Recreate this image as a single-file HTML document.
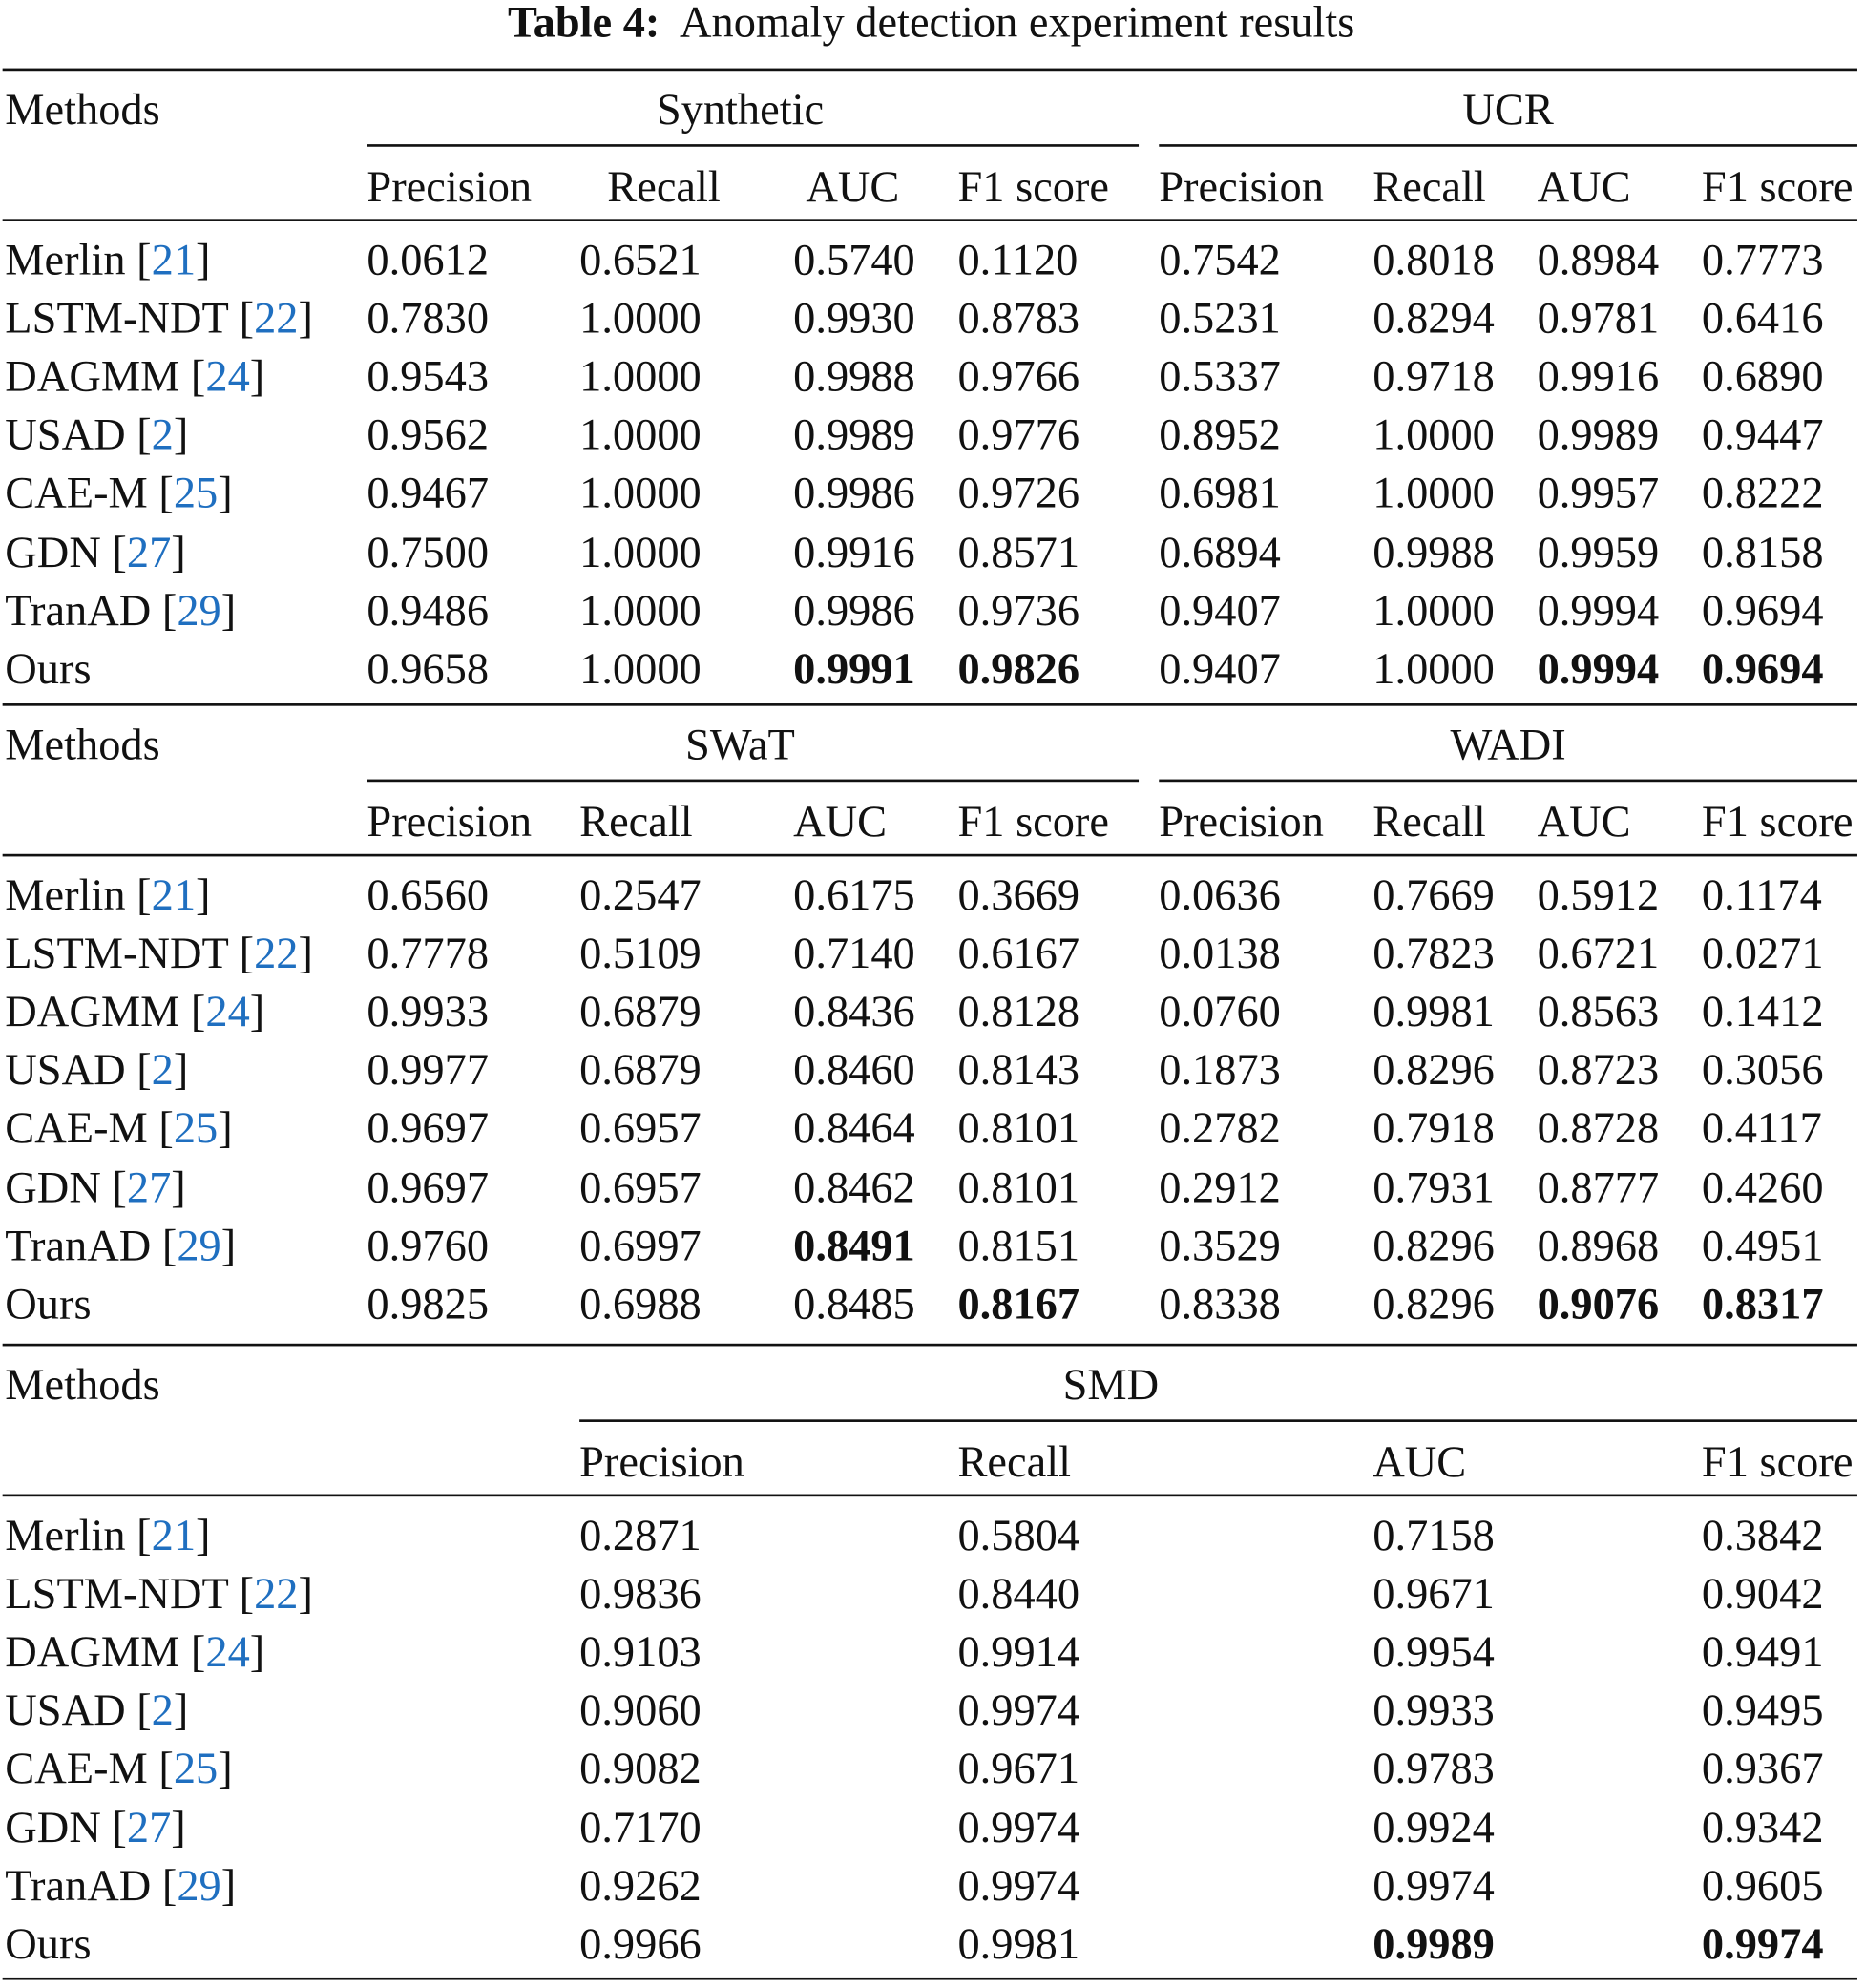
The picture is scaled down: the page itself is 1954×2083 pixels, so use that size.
<!DOCTYPE html>
<html><head><meta charset="utf-8">
<style>
html,body{margin:0;padding:0;background:#fff;}
body{width:1954px;height:2083px;overflow:hidden;position:relative;}
#wrap{position:absolute;left:0;top:0;width:1474px;height:1571px;transform:scale(1.3256);transform-origin:0 0;font-family:"Liberation Serif",serif;color:#111;}
.t{position:absolute;font-size:35px;line-height:34px;white-space:nowrap;}
.c{transform:translateX(-50%);}
.b{font-weight:bold;}
.ref{color:#1f6fc0;}
.rule{position:absolute;height:2px;background:#111;}
</style></head>
<body>
<div id="wrap">
<div class="t c" style="left:736px;top:1px;font-size:35px;"><b>Table 4:</b>&nbsp; Anomaly detection experiment results</div>
</div>
<script>
const methods=["Merlin","LSTM-NDT","DAGMM","USAD","CAE-M","GDN","TranAD","Ours"];
const refs=["21","22","24","2","25","27","29",""];
const syn=[["0.0612","0.6521","0.5740","0.1120"],["0.7830","1.0000","0.9930","0.8783"],["0.9543","1.0000","0.9988","0.9766"],["0.9562","1.0000","0.9989","0.9776"],["0.9467","1.0000","0.9986","0.9726"],["0.7500","1.0000","0.9916","0.8571"],["0.9486","1.0000","0.9986","0.9736"],["0.9658","1.0000","*0.9991","*0.9826"]];
const ucr=[["0.7542","0.8018","0.8984","0.7773"],["0.5231","0.8294","0.9781","0.6416"],["0.5337","0.9718","0.9916","0.6890"],["0.8952","1.0000","0.9989","0.9447"],["0.6981","1.0000","0.9957","0.8222"],["0.6894","0.9988","0.9959","0.8158"],["0.9407","1.0000","0.9994","0.9694"],["0.9407","1.0000","*0.9994","*0.9694"]];
const swat=[["0.6560","0.2547","0.6175","0.3669"],["0.7778","0.5109","0.7140","0.6167"],["0.9933","0.6879","0.8436","0.8128"],["0.9977","0.6879","0.8460","0.8143"],["0.9697","0.6957","0.8464","0.8101"],["0.9697","0.6957","0.8462","0.8101"],["0.9760","0.6997","*0.8491","0.8151"],["0.9825","0.6988","0.8485","*0.8167"]];
const wadi=[["0.0636","0.7669","0.5912","0.1174"],["0.0138","0.7823","0.6721","0.0271"],["0.0760","0.9981","0.8563","0.1412"],["0.1873","0.8296","0.8723","0.3056"],["0.2782","0.7918","0.8728","0.4117"],["0.2912","0.7931","0.8777","0.4260"],["0.3529","0.8296","0.8968","0.4951"],["0.8338","0.8296","*0.9076","*0.8317"]];
const smd=[["0.2871","0.5804","0.7158","0.3842"],["0.9836","0.8440","0.9671","0.9042"],["0.9103","0.9914","0.9954","0.9491"],["0.9060","0.9974","0.9933","0.9495"],["0.9082","0.9671","0.9783","0.9367"],["0.7170","0.9974","0.9924","0.9342"],["0.9262","0.9974","0.9974","0.9605"],["0.9966","0.9981","*0.9989","*0.9974"]];
const W=document.getElementById('wrap');
function txt(x,y,html,name,cls){const d=document.createElement('div');d.className='t'+(cls?' '+cls:'');d.style.left=x+'px';d.style.top=(y-15)+'px';d.innerHTML=html;


W.appendChild(d);return d;}
function rule(x1,x2,y,th,name){const d=document.createElement('div');d.className='rule';d.style.left=x1+'px';d.style.width=(x2-x1)+'px';d.style.top=(y-th/2)+'px';d.style.height=th+'px';


W.appendChild(d);}
function cell(x,y,v,name){const bold=v[0]==='*';txt(x,y,bold?v.slice(1):v,name,bold?'b':'');}
rule(2,1468,55,2.5,'top-rule');
const sections=[
 {y:55,groups:[["Synthetic",585,290,900,syn],["UCR",1192,916,1468,ucr]],hx:[[290,480,637,757],[916,1085,1215,1345]],cx:[[290,458,627,757],[916,1085,1215,1345]]},
 {y:557,groups:[["SWaT",585,290,900,swat],["WADI",1192,916,1468,wadi]],hx:[[290,458,627,757],[916,1085,1215,1345]],cx:[[290,458,627,757],[916,1085,1215,1345]]},
 {y:1063,groups:[["SMD",878,458,1468,smd]],hx:[[458,757,1085,1345]],cx:[[458,757,1085,1345]]}
];
const heads=["Precision","Recall","AUC","F1 score"];
sections.forEach((s,si)=>{
 const y0=s.y;
 txt(4,y0+30,'Methods','methods-header');
 s.groups.forEach((g,gi)=>{
  const n=g[0].toLowerCase();
  txt(g[1],y0+30,g[0],n+'-group-header','c');
  rule(g[2],g[3],y0+60,2,n+'-spanner-rule');
  heads.forEach((h,hi)=>txt(s.hx[gi][hi],y0+91,h,n+'-'+h.toLowerCase().replace(' ','-')+'-header'));
  g[4].forEach((row,ri)=>row.forEach((v,ci)=>cell(s.cx[gi][ci],y0+149+ri*46.1,v,n+'-'+methods[ri].toLowerCase()+'-'+heads[ci].toLowerCase().replace(' ','-'))));
 });
 rule(2,1468,y0+119,2,'header-rule-'+(si+1));
 methods.forEach((m,ri)=>txt(4,y0+149+ri*46.1,m+(refs[ri]?' [<span class="ref">'+refs[ri]+'</span>]':''),'method-'+m.toLowerCase()));
 rule(2,1468,si<2?sections[si+1].y:1564,2,'section-end-rule-'+(si+1));
});
</script>
</body></html>
